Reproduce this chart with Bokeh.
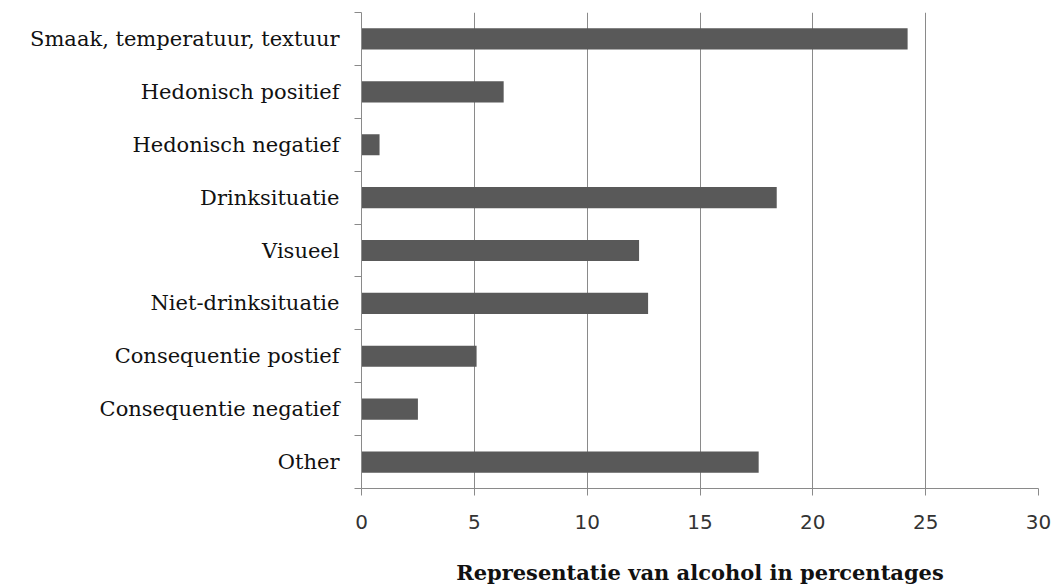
from bokeh.plotting import figure
from bokeh.models import Range1d, FixedTicker
from bokeh.embed import file_html
from bokeh.resources import INLINE

# Categories from top to bottom and their percentages
categories = [
    "Smaak, temperatuur, textuur",
    "Hedonisch positief",
    "Hedonisch negatief",
    "Drinksituatie",
    "Visueel",
    "Niet-drinksituatie",
    "Consequentie postief",
    "Consequentie negatief",
    "Other",
]
percentages = [24.2, 6.3, 0.8, 18.4, 12.3, 12.7, 5.1, 2.5, 17.6]
x_ticks = [0, 5, 10, 15, 20, 25, 30]

n = len(categories)
centers = [i + 0.5 for i in range(n)]
boundaries = list(range(n + 1))

GRAY = "#8a8a8a"
BAR = "#595959"

p = figure(
    width=1053, height=588,
    x_range=Range1d(0, 30), y_range=Range1d(n, 0),
    output_backend="svg", toolbar_location=None,
    min_border_left=361, min_border_right=15,
    min_border_top=12, min_border_bottom=100,
)
p.outline_line_color = None
p.background_fill_color = "white"
p.border_fill_color = "white"

p.hbar(y=centers, left=0, right=percentages, height=0.4,
       fill_color=BAR, line_color=None)

# x axis
xa = p.xaxis[0]
xa.ticker = FixedTicker(ticks=x_ticks)
xa.axis_line_color = GRAY
xa.major_tick_line_color = GRAY
xa.major_tick_out = 7
xa.major_tick_in = 0
xa.minor_tick_line_color = None
xa.major_label_text_font = "DejaVu Sans"
xa.major_label_text_font_size = "20px"
xa.major_label_text_color = "#333333"
xa.major_label_standoff = 19
xa.axis_label = "Representatie van alcohol in percentages"
xa.axis_label_text_font = "DejaVu Serif"
xa.axis_label_text_font_style = "bold"
xa.axis_label_text_font_size = "21px"
xa.axis_label_text_color = "#111111"
xa.axis_label_standoff = 28

# y axis: labels at band centres, tick marks at band boundaries
ya = p.yaxis[0]
ya.ticker = FixedTicker(ticks=centers, minor_ticks=boundaries)
ya.major_label_overrides = {c: lab for c, lab in zip(centers, categories)}
ya.axis_line_color = GRAY
ya.major_tick_line_color = None
ya.major_tick_out = 0
ya.major_tick_in = 0
ya.minor_tick_line_color = GRAY
ya.minor_tick_out = 7
ya.minor_tick_in = 0
ya.major_label_text_font = "DejaVu Serif"
ya.major_label_text_font_size = "21px"
ya.major_label_text_color = "#111111"
ya.major_label_standoff = 15

# vertical grid only
p.xgrid.ticker = FixedTicker(ticks=x_ticks[1:])
p.xgrid.grid_line_color = GRAY
p.xgrid.grid_line_width = 1
p.ygrid.grid_line_color = None

open("out.html", "w").write(file_html(p, INLINE))
